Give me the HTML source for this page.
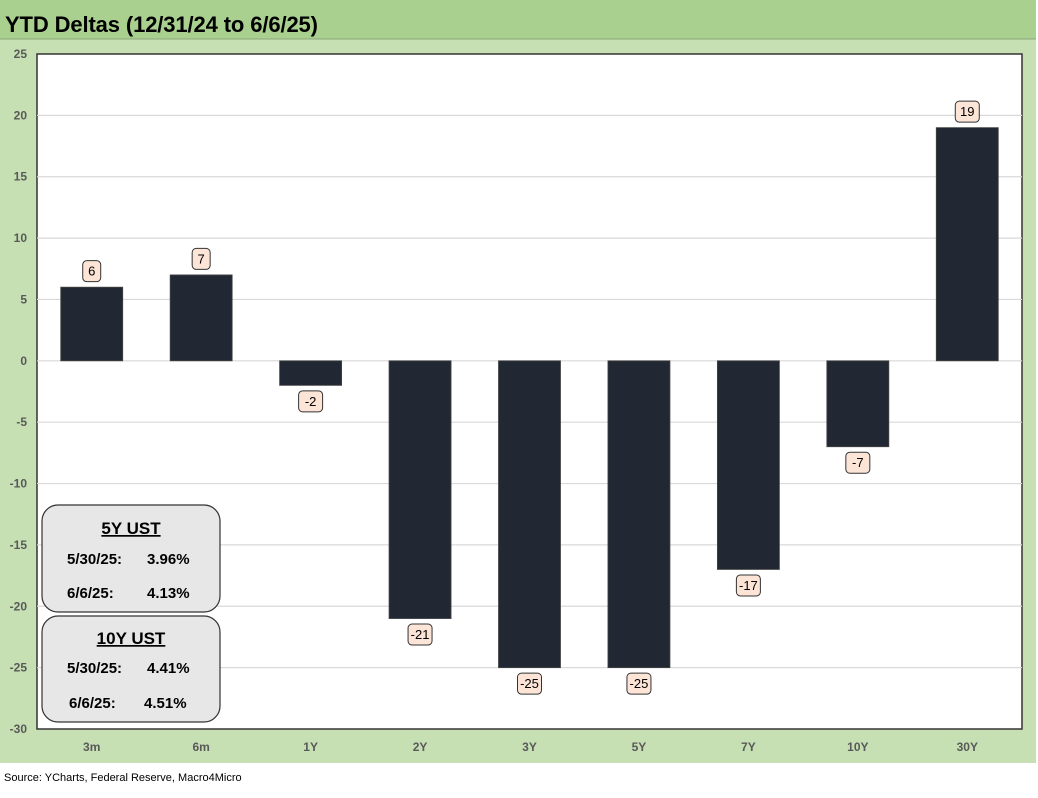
<!DOCTYPE html>
<html><head><meta charset="utf-8"><style>
body{margin:0;width:1038px;height:793px;background:#fff;overflow:hidden;font-family:"Liberation Sans",Calibri,sans-serif}
</style></head><body>
<svg id="c" width="1038" height="793" xmlns="http://www.w3.org/2000/svg">
<rect x="0" y="0" width="1036" height="763" fill="#c6e0b4"/>
<rect x="0" y="0" width="1036" height="39" fill="#a9d08e"/>
<line x1="0" y1="39" x2="1036" y2="39" stroke="#8aa87a" stroke-width="1"/>
<text x="5" y="32" font-size="22" font-weight="bold" fill="#000" textLength="313">YTD Deltas (12/31/24 to 6/6/25)</text>
<rect x="37" y="54" width="985" height="675" fill="#fff" stroke="#333" stroke-width="1.5"/>
<g id="grid"></g><g id="bars"></g><g id="labels"></g>
<g>
<rect x="42" y="505" width="178" height="107" rx="16" fill="#e7e7e7" stroke="#333" stroke-width="1.2"/>
<text x="131" y="534" font-size="17" font-weight="bold" text-anchor="middle" text-decoration="underline">5Y UST</text>
<text x="67" y="564" font-size="15" font-weight="bold">5/30/25:</text><text x="147" y="564" font-size="15" font-weight="bold">3.96%</text>
<text x="67" y="598" font-size="15" font-weight="bold">6/6/25:</text><text x="147" y="598" font-size="15" font-weight="bold">4.13%</text>
</g>
<g>
<rect x="42" y="616" width="178" height="106" rx="16" fill="#e7e7e7" stroke="#333" stroke-width="1.2"/>
<text x="131" y="644" font-size="17" font-weight="bold" text-anchor="middle" text-decoration="underline">10Y UST</text>
<text x="67" y="673" font-size="15" font-weight="bold">5/30/25:</text><text x="147" y="673" font-size="15" font-weight="bold">4.41%</text>
<text x="69" y="708" font-size="15" font-weight="bold">6/6/25:</text><text x="144" y="708" font-size="15" font-weight="bold">4.51%</text>
</g>
<text x="4" y="781" font-size="11" fill="#000">Source: YCharts, Federal Reserve, Macro4Micro</text>
</svg>
<script>
const categories=["3m","6m","1Y","2Y","3Y","5Y","7Y","10Y","30Y"];
const values=[6,7,-2,-21,-25,-25,-17,-7,19];
const yTicks=[25,20,15,10,5,0,-5,-10,-15,-20,-25,-30];
const NS="http://www.w3.org/2000/svg";
const L=37,R=1022,T=54,B=729,yMax=25,yMin=-30;
const y=v=>T+(yMax-v)/(yMax-yMin)*(B-T);
const bw=(R-L)/categories.length;
const x=i=>L+bw*(i+0.5);
function mk(t,a,p){const e=document.createElementNS(NS,t);for(const k in a)e.setAttribute(k,a[k]);p.appendChild(e);return e;}
const svg=document.getElementById('c'),g=document.getElementById('grid'),gb=document.getElementById('bars'),gl=document.getElementById('labels');
yTicks.forEach(t=>{
 if(t!==yMax&&t!==yMin){const ln=mk('line',{x1:L,x2:R,y1:y(t),y2:y(t),stroke:'#d9d9d9','stroke-width':1.2},g);
 
 }
 const tx=mk('text',{x:27,y:y(t)+4,'font-size':12,'font-weight':'bold',fill:'#595959','text-anchor':'end'},svg);
 tx.textContent=t;
 
 
});
categories.forEach((c,i)=>{
 const v=values[i],y0=y(0),yv=y(v);
 const r=mk('rect',{x:x(i)-31,y:Math.min(y0,yv),width:62,height:Math.abs(yv-y0),fill:'#222833',stroke:'#444','stroke-width':0.8},gb);
 
 
 const tx=mk('text',{x:x(i),y:751,'font-size':12,'font-weight':'bold',fill:'#595959','text-anchor':'middle'},svg);
 tx.textContent=c;
 
 
 const s=String(v),w=s.length>1?24:18;
 const cy=v>=0?yv-16:yv+16;
 const bx=mk('rect',{x:x(i)-w/2,y:cy-10.5,width:w,height:21,rx:4,fill:'#fce4d6',stroke:'#333','stroke-width':1},gl);
 
 
 const lt=mk('text',{x:x(i),y:cy+4.5,'font-size':13,fill:'#000','text-anchor':'middle'},gl);
 lt.textContent=s;
 
 
});
</script>
</body></html>
